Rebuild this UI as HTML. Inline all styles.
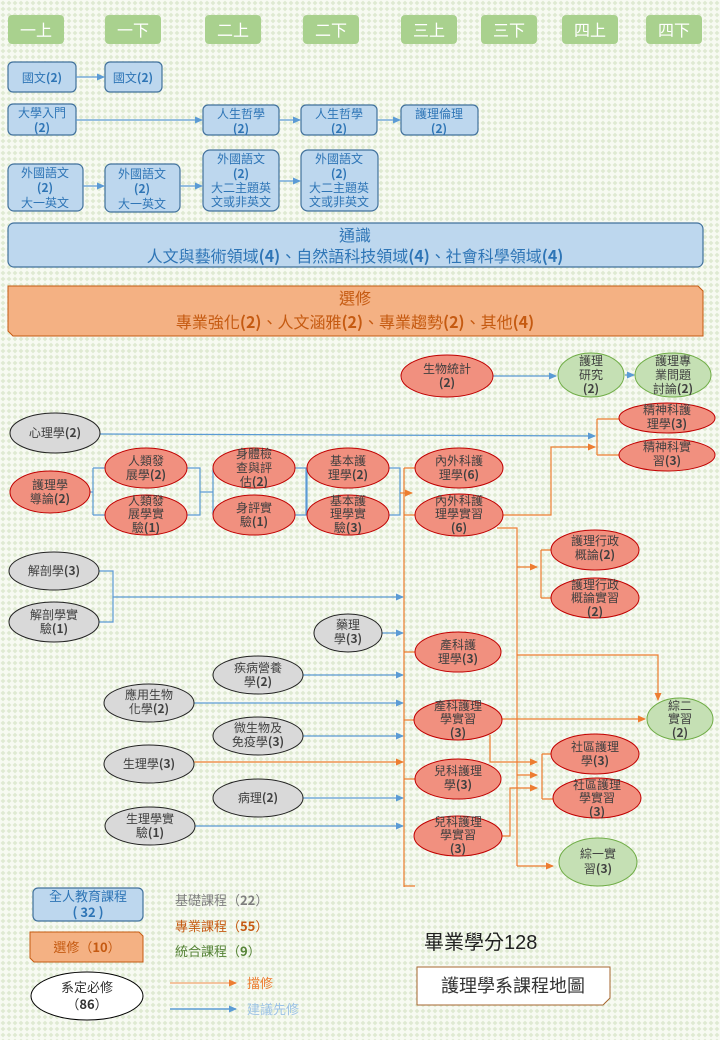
<!DOCTYPE html>
<html><head><meta charset="utf-8"><style>
html,body{margin:0;padding:0;width:720px;height:1040px;overflow:hidden;background:#f6f9f0}
svg{display:block}
text{font-family:"Noto Sans CJK TC","Liberation Sans",sans-serif}
</style></head><body>
<svg width="720" height="1040" viewBox="0 0 720 1040" xmlns="http://www.w3.org/2000/svg">
<defs>
<pattern id="bg" width="6" height="6" patternUnits="userSpaceOnUse">
<rect width="6" height="6" fill="#f7faf2"/>
<path d="M3 0.6 L5.4 3 L3 5.4 L0.6 3Z" fill="#dfead2"/>
</pattern>
<marker id="ab" markerWidth="8" markerHeight="8" refX="7" refY="4" orient="auto" markerUnits="userSpaceOnUse"><path d="M0 0.5 L8 4 L0 7.5Z" fill="#5b9bd5"/></marker>
<marker id="ao" markerWidth="8" markerHeight="8" refX="7" refY="4" orient="auto" markerUnits="userSpaceOnUse"><path d="M0 0.5 L8 4 L0 7.5Z" fill="#ed7d31"/></marker>
</defs>
<rect width="720" height="1040" fill="url(#bg)"/>

<!-- header -->
<g fill="#a9d18e">
<rect x="8" y="15" width="56" height="29" rx="4"/><rect x="105" y="15" width="56" height="29" rx="4"/>
<rect x="205" y="15" width="56" height="29" rx="4"/><rect x="303" y="15" width="56" height="29" rx="4"/>
<rect x="401" y="15" width="56" height="29" rx="4"/><rect x="481" y="15" width="56" height="29" rx="4"/>
<rect x="562" y="15" width="56" height="29" rx="4"/><rect x="646" y="15" width="56" height="29" rx="4"/>
</g>
<g fill="#fff" font-size="16" text-anchor="middle">
<text x="36" y="36">一上</text><text x="133" y="36">一下</text><text x="233" y="36">二上</text><text x="331" y="36">二下</text>
<text x="429" y="36">三上</text><text x="509" y="36">三下</text><text x="590" y="36">四上</text><text x="674" y="36">四下</text>
</g>

<!-- blue boxes -->
<g fill="#bdd7ee" stroke="#41719c" stroke-width="1.2">
<rect x="8" y="62" width="68" height="30" rx="5"/><rect x="105" y="62" width="57" height="30" rx="5"/>
<rect x="8" y="104" width="68" height="31" rx="5"/><rect x="203" y="105" width="76" height="30" rx="5"/>
<rect x="301" y="105" width="76" height="30" rx="5"/><rect x="401" y="105" width="77" height="30" rx="5"/>
<rect x="8" y="164" width="75" height="47" rx="6"/><rect x="105" y="164" width="75" height="48" rx="6"/>
<rect x="203" y="150" width="76" height="61" rx="7"/><rect x="301" y="150" width="77" height="61" rx="7"/>
<rect x="8" y="223" width="695" height="44" rx="6"/>
<rect x="33" y="888" width="110" height="33" rx="5"/>
</g>
<g fill="#2e75b6" font-size="12" text-anchor="middle">
<text x="42" y="82">國文<tspan font-weight="bold">(2)</tspan></text>
<text x="133" y="82">國文<tspan font-weight="bold">(2)</tspan></text>
<text x="42" y="117">大學入門</text><text x="42" y="132" font-weight="bold">(2)</text>
<text x="241" y="118">人生哲學</text><text x="241" y="133" font-weight="bold">(2)</text>
<text x="339" y="118">人生哲學</text><text x="339" y="133" font-weight="bold">(2)</text>
<text x="439" y="118">護理倫理</text><text x="439" y="133" font-weight="bold">(2)</text>
<text x="45" y="177">外國語文</text><text x="45" y="192" font-weight="bold">(2)</text><text x="45" y="207">大一英文</text>
<text x="142" y="178">外國語文</text><text x="142" y="193" font-weight="bold">(2)</text><text x="142" y="208">大一英文</text>
<text x="241" y="163">外國語文</text><text x="241" y="178" font-weight="bold">(2)</text><text x="241" y="192">大二主題英</text><text x="241" y="206">文或非英文</text>
<text x="339" y="163">外國語文</text><text x="339" y="178" font-weight="bold">(2)</text><text x="339" y="192">大二主題英</text><text x="339" y="206">文或非英文</text>
<text x="355" y="241" font-size="16">通識</text>
<text x="355" y="262" font-size="16">人文與藝術領域<tspan font-weight="bold">(4)</tspan>、自然語科技領域<tspan font-weight="bold">(4)</tspan>、社會科學領域<tspan font-weight="bold">(4)</tspan></text>
<text x="88" y="901" font-size="13">全人教育課程</text><text x="88" y="917" font-size="13" font-weight="bold">( 32 )</text>
</g>
<g stroke="#5b9bd5" stroke-width="1.2" fill="none" marker-end="url(#ab)">
<path d="M76 77H104"/><path d="M76 120H202"/><path d="M279 120H300"/><path d="M377 120H400"/>
<path d="M83 186H104"/><path d="M180 186H202"/><path d="M279 181H300"/>
</g>

<!-- elective -->
<path d="M8 286H698L703 291V336H13L8 331Z" fill="#f4b183" stroke="#c55a11" stroke-width="1"/>
<text x="355" y="304" font-size="16" fill="#c55a11" text-anchor="middle">選修</text>
<text x="355" y="328" font-size="16" fill="#c55a11" text-anchor="middle">專業強化<tspan font-weight="bold">(2)</tspan>、人文涵雅<tspan font-weight="bold">(2)</tspan>、專業趨勢<tspan font-weight="bold">(2)</tspan>、其他<tspan font-weight="bold">(4)</tspan></text>

<!-- connectors blue -->
<g stroke="#5b9bd5" stroke-width="1.2" fill="none">
<path d="M90 492H93M93 468V515M93 468H105M93 515H105"/>
<path d="M187 468H200V515H187M200 492H213M213 468V515"/>
<path d="M295 468H306V515H295M306 492H307V468M307 515V468"/>
<path d="M389 468H400V515H389"/>
<path d="M99 571H113V622H99"/>
</g>
<g stroke="#5b9bd5" stroke-width="1.2" fill="none" marker-end="url(#ab)">
<path d="M492 376H556"/><path d="M625 375H634"/>
<path d="M100 434L595 436"/>
<path d="M113 597H403"/><path d="M382 633H403"/><path d="M303 675H403"/><path d="M194 703H403"/>
<path d="M303 736H403"/><path d="M303 798H403"/><path d="M195 826H403"/>
</g>
<!-- orange -->
<g stroke="#ed7d31" stroke-width="1.2" fill="none">
<path d="M404 468V887"/>
<path d="M404 468H415M404 515H415M404 652H415M404 720H415M404 779H415M404 886H415"/>
<path d="M597 419V455M597 419H620M597 455H620"/>
<path d="M497 528H517V866"/>
<path d="M541 550V598M541 550H551M541 598H551"/>
<path d="M542 754V799M542 754H551M542 799H553"/>
</g>
<g stroke="#ed7d31" stroke-width="1.2" fill="none" marker-end="url(#ao)">
<path d="M400 493H412"/>
<path d="M503 515H551V447H595"/>
<path d="M517 567H537"/>
<path d="M517 655H658V700"/>
<path d="M502 719H645"/>
<path d="M490 735V762H537"/>
<path d="M517 775H537"/>
<path d="M502 836H510V788H537"/>
<path d="M517 866H553"/>
<path d="M194 762H403"/>
</g>

<!-- ellipses red -->
<g fill="#f1907f" stroke="#c00000" stroke-width="1">
<ellipse cx="447" cy="376" rx="46" ry="21"/>
<ellipse cx="667" cy="418" rx="48" ry="15"/><ellipse cx="667" cy="455" rx="48" ry="16"/>
<ellipse cx="50" cy="492" rx="40" ry="21"/>
<ellipse cx="146" cy="468" rx="41" ry="20"/><ellipse cx="146" cy="515" rx="41" ry="20"/>
<ellipse cx="254" cy="468" rx="41" ry="20"/><ellipse cx="254" cy="515" rx="41" ry="20"/>
<ellipse cx="348" cy="468" rx="41" ry="20"/><ellipse cx="348" cy="515" rx="41" ry="20"/>
<ellipse cx="459" cy="468" rx="44" ry="20"/><ellipse cx="459" cy="515" rx="44" ry="21"/>
<ellipse cx="595" cy="550" rx="44" ry="20"/><ellipse cx="595" cy="598" rx="44" ry="20"/>
<ellipse cx="458" cy="652" rx="43" ry="20"/><ellipse cx="458" cy="720" rx="44" ry="20"/>
<ellipse cx="595" cy="754" rx="44" ry="20"/><ellipse cx="597" cy="798" rx="44" ry="20"/>
<ellipse cx="458" cy="779" rx="43" ry="20"/><ellipse cx="458" cy="836" rx="44" ry="20"/>
</g>
<g fill="#c5e0b4" stroke="#70ad47" stroke-width="1">
<ellipse cx="591" cy="375" rx="33" ry="22"/><ellipse cx="673" cy="375" rx="38" ry="22"/>
<ellipse cx="680" cy="719" rx="33" ry="21"/><ellipse cx="598" cy="862" rx="39" ry="24"/>
</g>
<g fill="#d9d9d9" stroke="#222" stroke-width="1">
<ellipse cx="55" cy="433" rx="45" ry="20"/>
<ellipse cx="54" cy="571" rx="45" ry="19"/><ellipse cx="54" cy="622" rx="45" ry="20"/>
<ellipse cx="348" cy="633" rx="34" ry="19"/>
<ellipse cx="258" cy="675" rx="45" ry="19"/><ellipse cx="149" cy="703" rx="45" ry="19"/>
<ellipse cx="258" cy="736" rx="45" ry="19"/><ellipse cx="149" cy="764" rx="45" ry="19"/>
<ellipse cx="258" cy="798" rx="45" ry="19"/><ellipse cx="150" cy="826" rx="45" ry="19"/>
</g>
<g fill="#404040" font-size="12" text-anchor="middle">
<text x="447" y="373">生物統計</text><text x="447" y="387" font-weight="bold">(2)</text>
<text x="591" y="365">護理</text><text x="591" y="379">研究</text><text x="591" y="393" font-weight="bold">(2)</text>
<text x="673" y="365">護理專</text><text x="673" y="379">業問題</text><text x="673" y="393">討論<tspan font-weight="bold">(2)</tspan></text>
<text x="667" y="414">精神科護</text><text x="667" y="428">理學<tspan font-weight="bold">(3)</tspan></text>
<text x="667" y="451">精神科實</text><text x="667" y="465">習<tspan font-weight="bold">(3)</tspan></text>
<text x="55" y="437">心理學<tspan font-weight="bold">(2)</tspan></text>
<text x="50" y="489">護理學</text><text x="50" y="503">導論<tspan font-weight="bold">(2)</tspan></text>
<text x="146" y="465">人類發</text><text x="146" y="479">展學<tspan font-weight="bold">(2)</tspan></text>
<text x="146" y="505">人類發</text><text x="146" y="518">展學實</text><text x="146" y="532">驗<tspan font-weight="bold">(1)</tspan></text>
<text x="254" y="458">身體檢</text><text x="254" y="472">查與評</text><text x="254" y="486">估<tspan font-weight="bold">(2)</tspan></text>
<text x="254" y="512">身評實</text><text x="254" y="526">驗<tspan font-weight="bold">(1)</tspan></text>
<text x="348" y="465">基本護</text><text x="348" y="479">理學<tspan font-weight="bold">(2)</tspan></text>
<text x="348" y="505">基本護</text><text x="348" y="518">理學實</text><text x="348" y="532">驗<tspan font-weight="bold">(3)</tspan></text>
<text x="459" y="465">內外科護</text><text x="459" y="479">理學<tspan font-weight="bold">(6)</tspan></text>
<text x="459" y="505">內外科護</text><text x="459" y="518">理學實習</text><text x="459" y="532" font-weight="bold">(6)</text>
<text x="595" y="545">護理行政</text><text x="595" y="559">概論<tspan font-weight="bold">(2)</tspan></text>
<text x="595" y="589">護理行政</text><text x="595" y="602">概論實習</text><text x="595" y="616" font-weight="bold">(2)</text>
<text x="54" y="575">解剖學<tspan font-weight="bold">(3)</tspan></text>
<text x="54" y="619">解剖學實</text><text x="54" y="633">驗<tspan font-weight="bold">(1)</tspan></text>
<text x="348" y="629">藥理</text><text x="348" y="643">學<tspan font-weight="bold">(3)</tspan></text>
<text x="458" y="649">產科護</text><text x="458" y="663">理學<tspan font-weight="bold">(3)</tspan></text>
<text x="258" y="672">疾病營養</text><text x="258" y="686">學<tspan font-weight="bold">(2)</tspan></text>
<text x="149" y="699">應用生物</text><text x="149" y="713">化學<tspan font-weight="bold">(2)</tspan></text>
<text x="458" y="710">產科護理</text><text x="458" y="723">學實習</text><text x="458" y="737" font-weight="bold">(3)</text>
<text x="680" y="710">綜二</text><text x="680" y="723">實習</text><text x="680" y="737" font-weight="bold">(2)</text>
<text x="258" y="732">微生物及</text><text x="258" y="746">免疫學<tspan font-weight="bold">(3)</tspan></text>
<text x="595" y="751">社區護理</text><text x="595" y="765">學<tspan font-weight="bold">(3)</tspan></text>
<text x="597" y="789">社區護理</text><text x="597" y="802">學實習</text><text x="597" y="816" font-weight="bold">(3)</text>
<text x="149" y="768">生理學<tspan font-weight="bold">(3)</tspan></text>
<text x="458" y="775">兒科護理</text><text x="458" y="789">學<tspan font-weight="bold">(3)</tspan></text>
<text x="258" y="802">病理<tspan font-weight="bold">(2)</tspan></text>
<text x="150" y="823">生理學實</text><text x="150" y="837">驗<tspan font-weight="bold">(1)</tspan></text>
<text x="458" y="826">兒科護理</text><text x="458" y="839">學實習</text><text x="458" y="853" font-weight="bold">(3)</text>
<text x="598" y="858">綜一實</text><text x="598" y="873">習<tspan font-weight="bold">(3)</tspan></text>
</g>

<!-- legend -->
<path d="M30 932H139L143 936V962H34L30 958Z" fill="#f4b183" stroke="#c55a11" stroke-width="1"/>
<text x="87" y="952" font-size="13" fill="#c55a11" text-anchor="middle">選修（<tspan font-weight="bold">10</tspan>）</text>
<ellipse cx="87" cy="996" rx="56" ry="24" fill="#fff" stroke="#000" stroke-width="1"/>
<text x="87" y="992" font-size="13" fill="#333" text-anchor="middle">系定必修</text>
<text x="87" y="1009" font-size="13" fill="#333" text-anchor="middle">（<tspan font-weight="bold">86</tspan>）</text>
<text x="175" y="905" font-size="13" fill="#7f7f7f">基礎課程（<tspan font-weight="bold">22</tspan>）</text>
<text x="175" y="931" font-size="13" fill="#c55a11">專業課程（<tspan font-weight="bold">55</tspan>）</text>
<text x="175" y="956" font-size="13" fill="#548235">統合課程（<tspan font-weight="bold">9</tspan>）</text>
<path d="M170 983H236" stroke="#f4b183" stroke-width="1.5" marker-end="url(#ao)"/>
<text x="247" y="988" font-size="13" fill="#ed7d31">擋修</text>
<path d="M170 1009H236" stroke="#5b9bd5" stroke-width="1.5" marker-end="url(#ab)"/>
<text x="247" y="1014" font-size="13" fill="#9dc3e6">建議先修</text>
<text x="424" y="949" font-size="20" fill="#222">畢業學分<tspan font-family="Liberation Sans">128</tspan></text>
<path d="M417 967H610V998L603 1005H417Z" fill="#fff" stroke="#a5662e" stroke-width="1"/>
<text x="513" y="992" font-size="18" fill="#333" text-anchor="middle">護理學系課程地圖</text>
</svg>
</body></html>
